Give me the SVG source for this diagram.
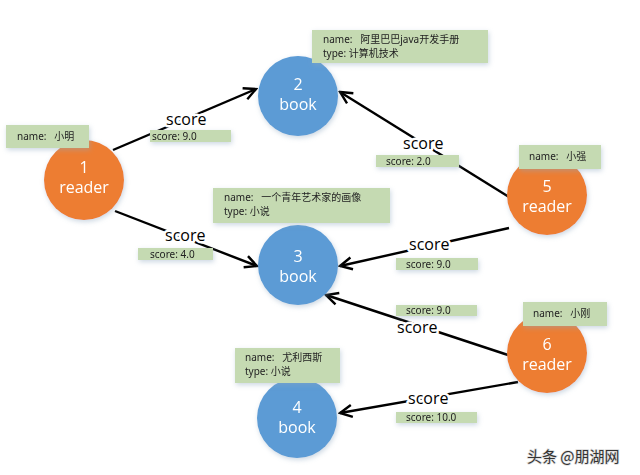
<svg xmlns="http://www.w3.org/2000/svg" width="640" height="475" viewBox="0 0 640 475">
<defs>
<marker id="arr" markerUnits="userSpaceOnUse" markerWidth="16" markerHeight="16" viewBox="0 0 16 16" refX="14" refY="8" orient="auto">
<path d="M2,2 L14,8 L2,14" fill="none" stroke="#000" stroke-width="2.4"/>
</marker>
<filter id="sh" x="-30%" y="-30%" width="160%" height="160%">
<feGaussianBlur in="SourceAlpha" stdDeviation="2.5"/>
<feOffset dx="1" dy="2" result="b"/>
<feFlood flood-color="#8fa8c0" flood-opacity="0.45"/>
<feComposite in2="b" operator="in"/>
<feMerge><feMergeNode/><feMergeNode in="SourceGraphic"/></feMerge>
</filter>
</defs>
<style>
.reader{fill:#ED7D31;}
.book{fill:#5B9BD5;}
.nt{fill:#fff;font-family:"Open Sans","Noto Sans","Noto Sans CJK SC",sans-serif;font-size:16px;text-anchor:middle;}
.box{fill:#C5DAB2;}
.bt{fill:#222;font-family:"Noto Sans","Noto Sans CJK SC",sans-serif;font-size:10px;}
.st{fill:#222;font-family:"Noto Sans","Noto Sans CJK SC",sans-serif;font-size:10px;}
.edge{stroke:#000;stroke-width:2.4;fill:none;marker-end:url(#arr);}
.lbl{fill:#000;font-family:"Open Sans","Noto Sans",sans-serif;font-size:16px;stroke:#fff;stroke-width:5px;paint-order:stroke;stroke-linejoin:round;}
</style>
<rect width="640" height="475" fill="#fff"/>
<g id="connectors">
<line class="edge" x1="113" y1="150" x2="256" y2="89"/>
<line class="edge" x1="115" y1="211" x2="257" y2="266"/>
<line class="edge" x1="509" y1="197" x2="340" y2="92"/>
<line class="edge" x1="509" y1="228" x2="340" y2="266"/>
<line class="edge" x1="508" y1="355" x2="326" y2="295"/>
<line class="edge" x1="518" y1="382" x2="340" y2="413"/>
<text class="lbl" x="166" y="125">score</text>
<text class="lbl" x="165" y="241">score</text>
<text class="lbl" x="403" y="149">score</text>
<text class="lbl" x="409" y="250">score</text>
<text class="lbl" x="397" y="333">score</text>
<text class="lbl" x="408" y="404">score</text>
</g>
<g id="node1" filter="url(#sh)">
<circle class="reader" cx="84" cy="180" r="40"/>
<text class="nt" x="84" y="173">1</text>
<text class="nt" x="84" y="193">reader</text>
</g>
<g id="node2" filter="url(#sh)">
<circle class="book" cx="298" cy="96" r="40"/>
<text class="nt" x="298" y="90">2</text>
<text class="nt" x="298" y="110">book</text>
</g>
<g id="node3" filter="url(#sh)">
<circle class="book" cx="298" cy="265" r="40"/>
<text class="nt" x="298" y="262">3</text>
<text class="nt" x="298" y="282">book</text>
</g>
<g id="node4" filter="url(#sh)">
<circle class="book" cx="297" cy="418" r="40"/>
<text class="nt" x="297" y="413">4</text>
<text class="nt" x="297" y="433">book</text>
</g>
<g id="node5" filter="url(#sh)">
<circle class="reader" cx="547" cy="195" r="40"/>
<text class="nt" x="547" y="192">5</text>
<text class="nt" x="547" y="212">reader</text>
</g>
<g id="node6" filter="url(#sh)">
<circle class="reader" cx="547" cy="353" r="40"/>
<text class="nt" x="547" y="350">6</text>
<text class="nt" x="547" y="370">reader</text>
</g>
<g id="props" filter="url(#sh)">
<rect class="box" x="6" y="125" width="83" height="23"/>
<text class="bt" x="17" y="140">name:&#160;&#160;&#160;小明</text>
<rect class="box" x="150" y="130" width="81" height="12"/>
<text class="st" x="152" y="140">score: 9.0</text>
<rect class="box" x="312" y="30" width="176" height="33"/>
<text class="bt" x="323" y="43">name:&#160;&#160;&#160;阿里巴巴java开发手册</text>
<text class="bt" x="323" y="57">type: 计算机技术</text>
<rect class="box" x="376" y="155" width="83" height="12"/>
<text class="st" x="386" y="165">score: 2.0</text>
<rect class="box" x="519" y="145" width="82" height="24"/>
<text class="bt" x="529" y="160">name:&#160;&#160;&#160;小强</text>
<rect class="box" x="213" y="188" width="177" height="35"/>
<text class="bt" x="224" y="201">name:&#160;&#160;&#160;一个青年艺术家的画像</text>
<text class="bt" x="224" y="215">type: 小说</text>
<rect class="box" x="138" y="248" width="75" height="12"/>
<text class="st" x="150" y="258">score: 4.0</text>
<rect class="box" x="396" y="258" width="82" height="12"/>
<text class="st" x="406" y="268">score: 9.0</text>
<rect class="box" x="396" y="305" width="81" height="11"/>
<text class="st" x="406" y="314">score: 9.0</text>
<rect class="box" x="523" y="302" width="84" height="24"/>
<text class="bt" x="533" y="317">name:&#160;&#160;&#160;小刚</text>
<rect class="box" x="396" y="412" width="81" height="11"/>
<text class="st" x="406" y="421">score: 10.0</text>
<rect class="box" x="235" y="348" width="105" height="35"/>
<text class="bt" x="245" y="361">name:&#160;&#160;&#160;尤利西斯</text>
<text class="bt" x="245" y="375">type: 小说</text>
</g>
<text x="527" y="462" fill="#333" font-family="Noto Sans CJK SC,sans-serif" font-size="15" style="paint-order:stroke" stroke="#ddd" stroke-width="1.5">头条 @朋湖网</text>
</svg>
